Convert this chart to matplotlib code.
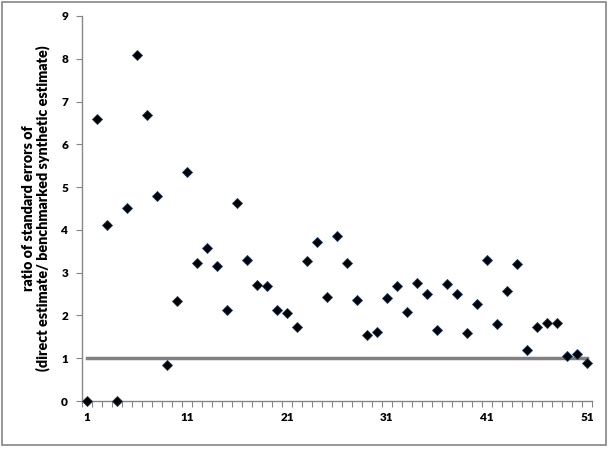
import numpy as np
import matplotlib
matplotlib.use("Agg")
import matplotlib.pyplot as plt
from matplotlib.patches import Rectangle

# area index 1..51 and ratio of standard errors
areas = list(range(1, 52))
ratios = [0.00, 6.60, 4.11, 0.00, 4.51, 8.09, 6.68, 4.79, 0.85, 2.33,
          5.35, 3.22, 3.57, 3.16, 2.12, 4.62, 3.30, 2.71, 2.70, 2.12,
          2.05, 1.72, 3.28, 3.71, 2.44, 3.86, 3.23, 2.35, 1.54, 1.61,
          2.40, 2.70, 2.08, 2.77, 2.51, 1.67, 2.73, 2.50, 1.58, 2.26,
          3.29, 1.80, 2.56, 3.21, 1.20, 1.74, 1.82, 1.82, 1.05, 1.10, 0.89]
ref_level = 1
xtick_labels = [1, 11, 21, 31, 41, 51]
ylabel = "ratio of standard errors of\n(direct estimate/ benchmarked synthetic estimate)"

plt.rcParams['font.family'] = ['Lato', 'DejaVu Sans']
axis_grey = '#868686'

fig = plt.figure(figsize=(6.09, 4.49), dpi=100)
ax = fig.add_axes([82 / 609, 1 - 401 / 449, 510 / 609, 385 / 449])

# reference line at ratio = 1
ax.plot([areas[0], areas[-1]], [ref_level, ref_level], color='#808080', lw=2.5, zorder=2)

# diamonds
ax.plot(areas, ratios, linestyle='none', marker='D', markersize=5.2,
        markerfacecolor='black', markeredgecolor='#1f3a60', markeredgewidth=0.6,
        zorder=3, clip_on=False)

ax.set_xlim(0.5, 51.5)
ax.set_ylim(0, 9)

ax.set_xticks(np.arange(0.5, 52, 1), minor=True)
ax.set_xticks(xtick_labels)
ax.set_xticklabels([str(v) for v in xtick_labels], fontweight='heavy', fontsize=8.5)
ax.tick_params(axis='x', which='major', length=0, pad=8)
ax.tick_params(axis='x', which='minor', length=4, width=0.8, color=axis_grey, direction='out')

ax.set_yticks(range(0, 10))
ax.set_yticklabels([str(v) for v in range(0, 10)], fontweight='heavy', fontsize=8.5)
ax.tick_params(axis='y', length=4, width=0.8, color=axis_grey, direction='out', pad=6)

for side in ['top', 'right']:
    ax.spines[side].set_visible(False)
for side in ['left', 'bottom']:
    ax.spines[side].set_color(axis_grey)
    ax.spines[side].set_linewidth(1.0)

ax.set_ylabel(ylabel, fontweight='heavy', fontsize=10.3, linespacing=1.05, labelpad=8)

# chart area border
fig.patches.append(Rectangle((1.5 / 609, 4 / 449), 604 / 609, 443.5 / 449,
                             transform=fig.transFigure, fill=False,
                             edgecolor=axis_grey, linewidth=1.2))

fig.savefig('out.png', dpi=100)
